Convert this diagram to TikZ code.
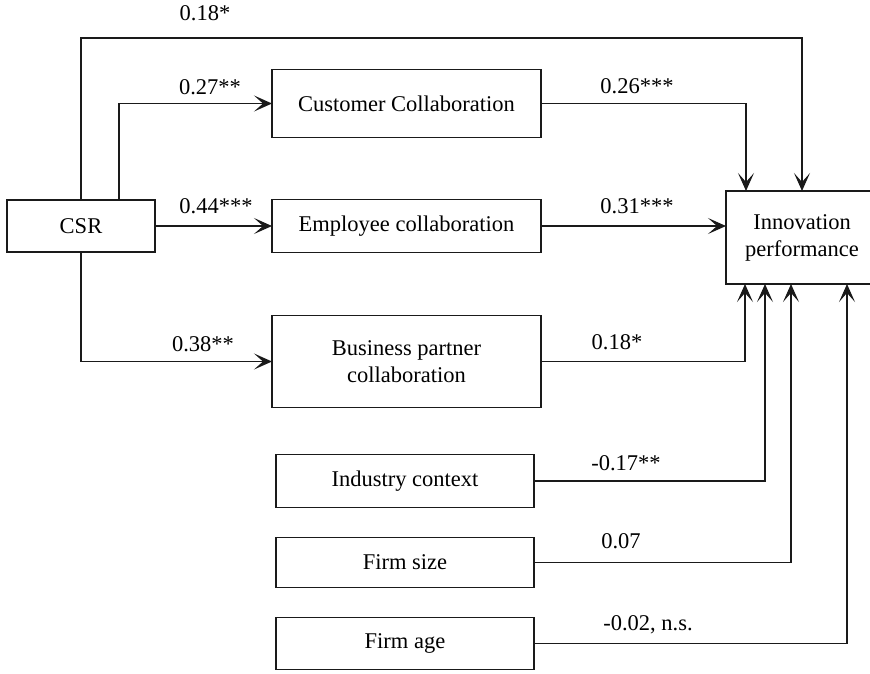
\documentclass[tikz,border=0pt]{standalone}
\usepackage{fontspec}
\setmainfont{Liberation Serif}
\usetikzlibrary{arrows.meta,positioning}
\definecolor{PathInk}{HTML}{1A1A1A}

\begin{document}
\begin{tikzpicture}[
  x=1pt,y=-1pt,
  construct/.style={rectangle,draw=PathInk,line width=1.3pt,outer sep=0pt,fill=white,align=center,font=\fontsize{22.5}{27}\selectfont},
  coef/.style={font=\fontsize{22.5}{27}\selectfont,inner sep=0pt},
  arrow/.style={-{Stealth[length=18pt,width=16pt,inset=9pt]},draw=PathInk,line width=1.3pt}
]
\useasboundingbox (0,0) rectangle (870,673);
\node[construct,minimum width=148pt,minimum height=52pt] (csr) at (81,226) {CSR};
\node[construct,minimum width=269pt,minimum height=53pt,right=117pt of csr] (emp) {Employee collaboration};
\node[construct,minimum width=269pt,minimum height=68pt,above=62pt of emp] (cust) {Customer Collaboration};
\node[construct,minimum width=269pt,minimum height=92pt,below=63pt of emp] (bpc) {Business partner\\collaboration};
\node[construct,minimum width=258pt,minimum height=53pt,below=47pt of bpc,xshift=-1.5pt] (ind) {Industry context};
\node[construct,minimum width=258pt,minimum height=50pt,below=30pt of ind] (fsize) {Firm size};
\node[construct,minimum width=258pt,minimum height=52pt,below=30pt of fsize] (fage) {Firm age};
\node[construct,minimum width=152pt,minimum height=93pt] (innov) at (802,237.5) {Innovation\\performance};
% direct and mediated paths
\draw[arrow] (csr.north) -- ++(0,-162) -| (innov.north);
\draw[arrow] ([xshift=38pt]csr.north) |- (cust.west);
\draw[arrow] (cust.east) -| ([xshift=-56pt]innov.north);
\draw[arrow] (csr.east) -- (emp.west);
\draw[arrow] (emp.east) -- (emp.east -| innov.west);
\draw[arrow] (csr.south) |- (bpc.west);
\draw[arrow] (bpc.east) -| ([xshift=-57pt]innov.south);
% controls
\draw[arrow] (ind.east) -| ([xshift=-37pt]innov.south);
\draw[arrow] (fsize.east) -| ([xshift=-11pt]innov.south);
\draw[arrow] (fage.east) -| ([xshift=45pt]innov.south);
% coefficients
\node[coef] (k1) at (205,13) {0.18*};
\node[coef] (k2) at (210,87) {0.27**};
\node[coef] (k3) at (637,86) {0.26***};
\node[coef] (k4) at (216,206) {0.44***};
\node[coef] (k5) at (637,206) {0.31***};
\node[coef] (k6) at (203,344) {0.38**};
\node[coef] (k7) at (617,342) {0.18*};
\node[coef] (k8) at (626,463) {-0.17**};
\node[coef] (k9) at (621,541) {0.07};
\node[coef] (k10) at (648,625) {-0.02, n.s.};
\end{tikzpicture}
\end{document}
